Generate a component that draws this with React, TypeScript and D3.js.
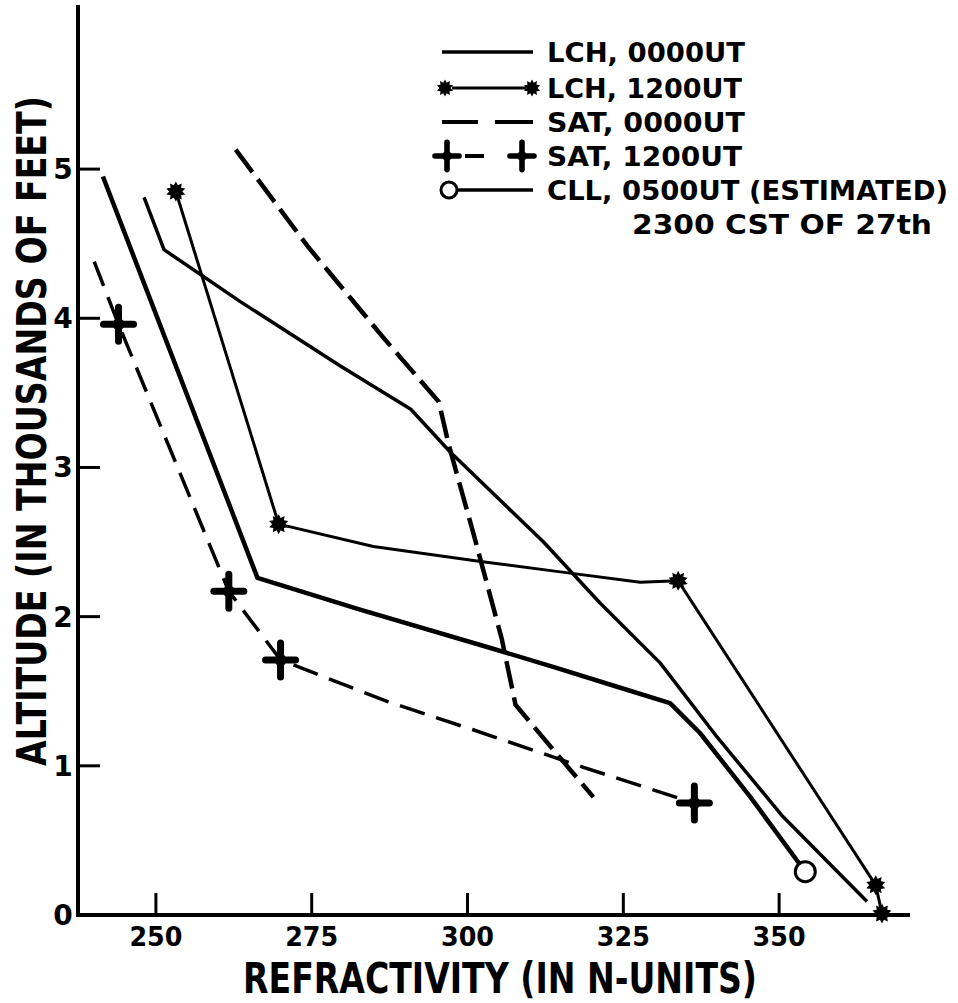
import React, { useLayoutEffect, useRef, useState } from "react";
import * as d3 from "d3";

const X_TICKS = [250, 275, 300, 325, 350];
const Y_TICKS = [1, 2, 3, 4, 5];
const Y_TICK_LABELS = [0, 1, 2, 3, 4, 5];

// [refractivity, altitude (thousands of feet)]
const lch0000: [number, number][] = [
  [248.1, 4.81], [251.3, 4.46], [263.6, 4.11], [279.6, 3.68], [290.9, 3.39],
  [297.3, 3.1], [312.2, 2.5], [321.3, 2.09], [330.9, 1.69], [340.1, 1.19],
  [350.6, 0.66], [364.1, 0.09],
];
const lch1200: [number, number][] = [
  [253.2, 4.85], [269.7, 2.62], [284.9, 2.47], [302.1, 2.37], [314.9, 2.3],
  [327.7, 2.23], [333.8, 2.24], [365.5, 0.2], [366.5, 0.01],
];
const lch1200Marks = [0, 1, 6, 7, 8];
const sat0000: [number, number][] = [
  [262.8, 5.13], [274.4, 4.48], [286.5, 3.87], [295.4, 3.44], [297, 3.15],
  [301, 2.55], [305.5, 1.85], [307.7, 1.41], [313.3, 1.13], [320.2, 0.79],
];
const sat1200: [number, number][] = [
  [240.1, 4.38], [244, 3.96], [261.7, 2.17], [270, 1.71], [287.2, 1.43],
  [301, 1.24], [318.6, 0.99], [336.4, 0.75],
];
const sat1200Marks = [1, 2, 3, 7];
const cll: [number, number][] = [
  [241.5, 4.95], [266.3, 2.26], [282.5, 2.05], [303.7, 1.79], [314, 1.66],
  [324, 1.53], [332.5, 1.42], [337.3, 1.22], [345.4, 0.79], [354.2, 0.29],
];
const cllMarks = [9];

const LEGEND = [
  "LCH, 0000UT",
  "LCH, 1200UT",
  "SAT, 0000UT",
  "SAT, 1200UT",
  "CLL, 0500UT (ESTIMATED)",
];
const LEGEND_NOTE = "2300 CST OF 27th";
const X_TITLE = "REFRACTIVITY (IN N-UNITS)";
const Y_TITLE = "ALTITUDE (IN THOUSANDS OF FEET)";

const W = 958;
const H = 1003;
const FONT = "'DejaVu Sans', 'Liberation Sans', sans-serif";

function starPath(rOut: number, rIn: number, n: number) {
  const pts: string[] = [];
  for (let i = 0; i < n * 2; i++) {
    const r = i % 2 === 0 ? rOut : rIn;
    const a = (Math.PI * i) / n - Math.PI / 2;
    pts.push(`${(r * Math.cos(a)).toFixed(2)},${(r * Math.sin(a)).toFixed(2)}`);
  }
  return "M" + pts.join("L") + "Z";
}

const Star = ({ x, y, s = 1 }: { x: number; y: number; s?: number }) => (
  <g transform={`translate(${x},${y}) scale(${s})`}>
    <path d={starPath(10, 6.5, 10)} fill="#000" />
  </g>
);

const Plus = ({ x, y, s = 1 }: { x: number; y: number; s?: number }) => (
  <g transform={`translate(${x},${y}) scale(${s})`} stroke="#000" strokeLinecap="round">
    <line x1={-15} y1={0} x2={15} y2={0} strokeWidth={7} />
    <line x1={0} y1={-17} x2={0} y2={17} strokeWidth={7} />
    <circle r={6} fill="#000" stroke="none" />
  </g>
);

const Ring = ({ x, y, r = 10 }: { x: number; y: number; r?: number }) => (
  <circle cx={x} cy={y} r={r} fill="#fff" stroke="#000" strokeWidth={3} />
);

export default function App() {
  const x = d3.scaleLinear().domain([237.5, 371]).range([78, 910]);
  const y = d3.scaleLinear().domain([0, 6.1]).range([915, 5]);
  const line = d3
    .line<[number, number]>()
    .x((d) => x(d[0]))
    .y((d) => y(d[1]))
    .curve(d3.curveLinear);

  const yTitleRef = useRef<SVGTextElement>(null);
  const [yScaleX, setYScaleX] = useState(0.75);
  useLayoutEffect(() => {
    if (yTitleRef.current) {
      const w = yTitleRef.current.getComputedTextLength();
      if (w > 0) setYScaleX(670 / w);
    }
  }, []);

  const legendY = [52, 88, 122, 156, 190, 224];
  const legendLen = [198, 195, 198, 195, 401];

  return (
    <svg
      width={W}
      height={H}
      style={{ position: "absolute", left: 0, top: 0, background: "#fff" }}
      fontFamily={FONT}
      fontWeight="bold"
    >
      <rect width={W} height={H} fill="#fff" />
      {/* axes */}
      <line x1={x(237.5)} y1={y(6.1)} x2={x(237.5)} y2={y(0)} stroke="#000" strokeWidth={4} />
      <line x1={x(237.5) - 2} y1={y(0)} x2={x(371)} y2={y(0)} stroke="#000" strokeWidth={4} />
      {Y_TICKS.map((t) => (
        <line key={"yt" + t} x1={x(237.5)} x2={x(237.5) + 22} y1={y(t)} y2={y(t)} stroke="#000" strokeWidth={3} />
      ))}
      {X_TICKS.map((t) => (
        <line key={"xt" + t} x1={x(t)} x2={x(t)} y1={y(0)} y2={y(0) - 22} stroke="#000" strokeWidth={3} />
      ))}
      {Y_TICK_LABELS.map((t) => (
        <text key={"yl" + t} x={63} y={y(t) + 10} fontSize={28} textAnchor="middle">
          {t}
        </text>
      ))}
      {X_TICKS.map((t) => (
        <text key={"xl" + t} x={x(t)} y={946} fontSize={26} textAnchor="middle" textLength={53} lengthAdjust="spacingAndGlyphs">
          {t}
        </text>
      ))}
      <text x={500} y={993} fontSize={42} textAnchor="middle" textLength={514} lengthAdjust="spacingAndGlyphs">
        {X_TITLE}
      </text>
      <g transform={`translate(46,431) rotate(-90) scale(${yScaleX},1)`}>
        <text ref={yTitleRef} x={0} y={0} fontSize={40} textAnchor="middle">
          {Y_TITLE}
        </text>
      </g>

      {/* series */}
      <path d={line(lch0000) || ""} fill="none" stroke="#000" strokeWidth={3.5} strokeLinejoin="round" />
      <path d={line(lch1200) || ""} fill="none" stroke="#000" strokeWidth={3} strokeLinejoin="round" />
      <path d={line(sat0000) || ""} fill="none" stroke="#000" strokeWidth={4.5} strokeDasharray="28 9" />
      <path d={line(sat1200) || ""} fill="none" stroke="#000" strokeWidth={3.5} strokeDasharray="26 12" />
      <path d={line(cll) || ""} fill="none" stroke="#000" strokeWidth={4.5} strokeLinejoin="round" />
      {lch1200Marks.map((i) => (
        <Star key={"s" + i} x={x(lch1200[i][0])} y={y(lch1200[i][1])} />
      ))}
      {sat1200Marks.map((i) => (
        <Plus key={"p" + i} x={x(sat1200[i][0])} y={y(sat1200[i][1])} />
      ))}
      {cllMarks.map((i) => (
        <Ring key={"c" + i} x={x(cll[i][0])} y={y(cll[i][1])} r={10} />
      ))}

      {/* legend */}
      <g>
        <line x1={442} x2={533} y1={legendY[0]} y2={legendY[0]} stroke="#000" strokeWidth={3.5} />
        <line x1={452} x2={526} y1={legendY[1]} y2={legendY[1]} stroke="#000" strokeWidth={3} />
        <Star x={445} y={legendY[1]} s={0.85} />
        <Star x={532} y={legendY[1]} s={0.85} />
        <line x1={442} x2={478} y1={legendY[2]} y2={legendY[2]} stroke="#000" strokeWidth={4} />
        <line x1={495} x2={533} y1={legendY[2]} y2={legendY[2]} stroke="#000" strokeWidth={4} />
        <line x1={465} x2={484} y1={legendY[3]} y2={legendY[3]} stroke="#000" strokeWidth={4} />
        <Plus x={447} y={legendY[3]} s={0.8} />
        <Plus x={522} y={legendY[3]} s={0.8} />
        <line x1={457} x2={533} y1={legendY[4]} y2={legendY[4]} stroke="#000" strokeWidth={3.5} />
        <Ring x={449} y={legendY[4]} r={8} />
        {LEGEND.map((t, i) => (
          <text key={t} x={547} y={legendY[i] + 10} fontSize={27} textLength={legendLen[i]} lengthAdjust="spacingAndGlyphs">
            {t}
          </text>
        ))}
        <text x={632} y={legendY[5] + 10} fontSize={27} textLength={300} lengthAdjust="spacingAndGlyphs">
          {LEGEND_NOTE}
        </text>
      </g>
    </svg>
  );
}
